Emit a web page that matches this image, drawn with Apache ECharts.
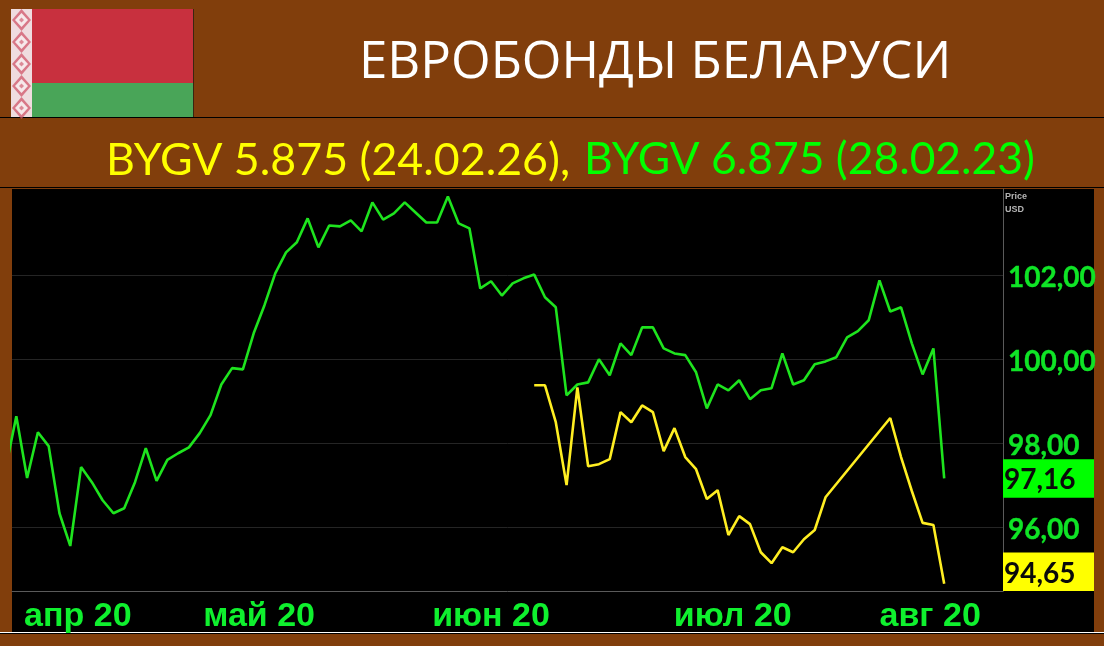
<!DOCTYPE html>
<html>
<head>
<meta charset="utf-8">
<style>html,body{margin:0;padding:0;background:#813e0c;}#c{width:1104px;height:646px;}</style>
<script src="https://cdn.jsdelivr.net/npm/echarts@6/dist/echarts.min.js"></script>
</head>
<body>
<div id="c"></div>
<script>
// Values are trading-day series; index 0 of each array is trading day -1 (just off the left edge).
const green = [97.38,98.64,97.17,98.26,97.93,96.33,95.55,97.43,97.07,96.64,96.33,96.45,97.07,97.88,97.10,97.60,97.76,97.90,98.24,98.67,99.40,99.79,99.76,100.62,101.29,102.05,102.55,102.79,103.36,102.67,103.19,103.17,103.31,103.05,103.74,103.33,103.48,103.74,103.50,103.26,103.26,103.88,103.24,103.12,101.69,101.86,101.52,101.81,101.93,102.02,101.48,101.24,99.14,99.40,99.45,100.00,99.62,100.38,100.10,100.76,100.76,100.26,100.14,100.10,99.69,98.83,99.40,99.26,99.50,99.05,99.26,99.31,100.14,99.40,99.50,99.88,99.95,100.05,100.52,100.67,100.93,101.88,101.14,101.24,100.38,99.64,100.26,97.16];
const yellowStart = 49; // array position in the green series where the yellow series begins
const yellow = [99.38,99.38,98.50,97.00,99.33,97.45,97.50,97.62,98.74,98.50,98.90,98.74,97.81,98.36,97.67,97.38,96.67,96.88,95.81,96.26,96.07,95.40,95.14,95.52,95.40,95.71,95.93,96.71,null,null,null,null,null,98.60,97.67,96.86,96.10,96.05,94.65];
const monthLabels = ['апр 20','май 20','июн 20','июл 20','авг 20'];
const monthTicks = [5.7,22.5,44,66.4,84.7];
const yTicks = [96,98,100,102];
const lastValues = [97.16,94.65];
const lastColors = ['#00ff00','#ffff00'];

const xMin = -0.4, xMax = 91.45, yMin = 94.476, yMax = 104.06;
const fmt = v => v.toFixed(2).replace('.', ',');

const greenData = green.map((v,i)=>[i-1,v]);
const yellowData = yellow.map((v,i)=>[i+yellowStart-1,v]);

// flag ornament
const ornament = [];
ornament.push({type:'rect',silent:true,z:-5,shape:{x:11,y:9,width:21,height:108},style:{fill:'#efdcdf'}});
for(let k=0;k<5;k++){
  const cy = 20 + k*22;
  ornament.push({type:'polygon',silent:true,z:-4,shape:{points:[[21.5,cy-11],[31,cy],[21.5,cy+11],[12,cy]]},style:{fill:'#d0566a',opacity:0.75}});
  ornament.push({type:'polygon',silent:true,z:-3,shape:{points:[[21.5,cy-7],[28,cy],[21.5,cy+7],[15,cy]]},style:{fill:'#f6e8ea'}});
  ornament.push({type:'polygon',silent:true,z:-2,shape:{points:[[21.5,cy-2.5],[24,cy],[21.5,cy+2.5],[19,cy]]},style:{fill:'#dc8a97'}});
}

const chart = echarts.init(document.getElementById('c'),null,{renderer:'canvas',width:1104,height:646});
chart.setOption({
  animation:false,
  backgroundColor:'#813e0c',
  title:[
    {text:'ЕВРОБОНДЫ БЕЛАРУСИ',left:354,top:33,textStyle:{color:'#ffffff',fontSize:51,fontWeight:'normal',fontFamily:'Open Sans'}},
    {text:'BYGV 5.875 (24.02.26),',left:101,top:133,textStyle:{color:'#ffff00',fontSize:44.7,fontWeight:'normal',fontFamily:'Lato'}},
    {text:'BYGV 6.875 (28.02.23)',left:579,top:133,textStyle:{color:'#00ff00',fontSize:44.4,fontWeight:'normal',fontFamily:'Lato'}}
  ],
  graphic:[
    {type:'rect',silent:true,z:-10,shape:{x:12,y:189,width:1082,height:443},style:{fill:'#000000'}},
    {type:'rect',silent:true,z:-10,shape:{x:0,y:117,width:1104,height:1},style:{fill:'#000000'}},
    {type:'rect',silent:true,z:-10,shape:{x:0,y:187,width:1104,height:1},style:{fill:'#000000'}},
    {type:'rect',silent:true,z:-10,shape:{x:0,y:632,width:1104,height:1},style:{fill:'#ffffff'}},
    {type:'rect',silent:true,z:-10,shape:{x:0,y:633,width:1104,height:1},style:{fill:'#000000'}},
    {type:'rect',silent:true,z:-5,shape:{x:32,y:9,width:161,height:74},style:{fill:'#c8303e'}},
    {type:'rect',silent:true,z:-5,shape:{x:32,y:83,width:161,height:34},style:{fill:'#49a558'}},
    {type:'rect',silent:true,z:-5,shape:{x:193,y:9,width:1,height:108},style:{fill:'#3a2510'}},
    ...ornament,
    {type:'text',silent:true,x:1005,y:190,z:10,style:{text:'Price\nUSD',fill:'#b4b4b4',font:'bold 9px "Liberation Sans"',lineHeight:13}}
  ],
  grid:{left:12,top:189,width:991,height:402,containLabel:false},
  xAxis:{
    type:'value',min:xMin,max:xMax,
    splitLine:{show:false},
    axisLine:{show:true,onZero:false,lineStyle:{color:'#5a5a5a',width:1}},
    axisTick:{show:false},
    axisLabel:{
      customValues:monthTicks,
      margin:9,
      color:'#0ff02e',fontWeight:'bold',fontSize:34,fontFamily:'Liberation Sans',
      formatter:v=>monthLabels[monthTicks.indexOf(v)]||''
    }
  },
  yAxis:{
    type:'value',position:'right',min:yMin,max:yMax,
    axisLine:{show:true,onZero:false,lineStyle:{color:'#5a5a5a',width:1}},
    axisTick:{show:false,customValues:yTicks},
    splitLine:{show:true,lineStyle:{color:'#252525',width:1}},
    axisLabel:{
      customValues:yTicks,margin:5,
      formatter:v=>'{a|'+fmt(v)+'}',
      rich:{a:{color:'#0fe426',fontWeight:'bold',fontSize:28,fontFamily:'Lato',padding:[5,0,0,0],textBorderColor:'#0fe426',textBorderWidth:0.4}}
    }
  },
  series:[
    {type:'line',name:'BYGV 5.875 (24.02.26)',data:yellowData,connectNulls:true,showSymbol:false,symbol:'none',
     lineStyle:{color:'#ffee22',width:2.6},z:3},
    {type:'line',name:'BYGV 6.875 (28.02.23)',data:greenData,showSymbol:false,symbol:'none',
     lineStyle:{color:'#1ee41e',width:2.6},z:4},
    {type:'custom',data:lastValues.map((v,i)=>[xMax,v,i]),z:5,
     renderItem(params,api){
       const v = api.value(1), idx = api.value(2);
       const p = api.coord([xMax,v]);
       const h = 38.5, w = 91;
       const bottom = api.coord([xMax,yMin])[1];
       const cy = Math.min(p[1], bottom-h/2);
       return {type:'group',children:[
         {type:'rect',shape:{x:p[0],y:cy-h/2,width:w,height:h},style:{fill:lastColors[idx]}},
         {type:'text',x:p[0]+1,y:cy+2,style:{text:fmt(v),fill:'#0a0a0a',font:'bold 28px Lato',verticalAlign:'middle',align:'left'}}
       ]};
     }}
  ]
});
</script>
</body>
</html>
